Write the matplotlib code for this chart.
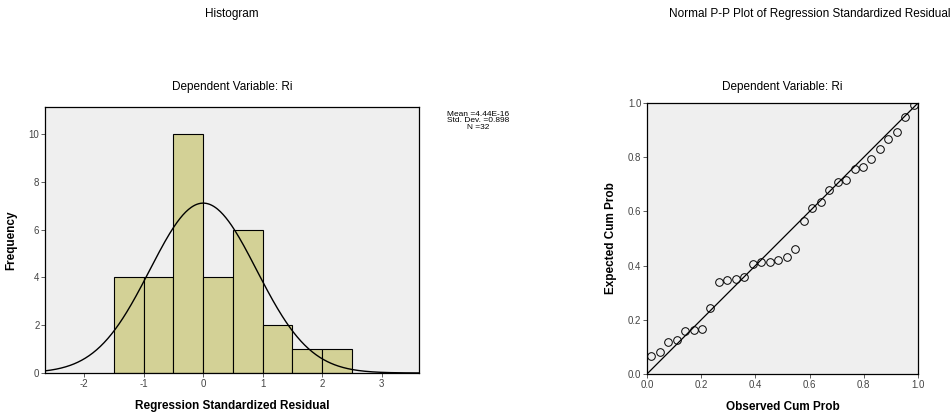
import numpy as np
import matplotlib
matplotlib.use('Agg')
import matplotlib.pyplot as plt

plt.rcParams['font.family'] = ['Liberation Sans', 'DejaVu Sans']
plt.rcParams['axes.unicode_minus'] = False

# ----- histogram data -----
bin_edges = [-1.5, -1.0, -0.5, 0.0, 0.5, 1.0, 1.5, 2.0, 2.5]
counts = [4, 4, 10, 4, 6, 2, 1, 1]
resid_mean = 4.44e-16
resid_std = 0.898
n_obs = 32

# ----- P-P plot data -----
observed_cum = [0.016, 0.047, 0.078, 0.109, 0.141, 0.172, 0.203, 0.234,
                0.266, 0.297, 0.328, 0.359, 0.391, 0.422, 0.453, 0.484,
                0.516, 0.547, 0.578, 0.609, 0.641, 0.672, 0.703, 0.734,
                0.766, 0.797, 0.828, 0.859, 0.891, 0.922, 0.953, 0.984]
expected_cum = [0.068, 0.081, 0.118, 0.126, 0.160, 0.163, 0.166, 0.244,
                0.340, 0.347, 0.351, 0.357, 0.405, 0.413, 0.413, 0.420,
                0.433, 0.463, 0.564, 0.611, 0.634, 0.680, 0.709, 0.717,
                0.756, 0.765, 0.793, 0.830, 0.868, 0.893, 0.948, 0.994]

bar_color = '#d3d196'
panel_bg = '#efefef'

fig = plt.figure(figsize=(9.52, 4.16), dpi=100)

# ----- histogram -----
ax1 = fig.add_axes([0.0473, 0.1034, 0.3929, 0.6394])
ax1.set_facecolor(panel_bg)
left = np.array(bin_edges[:-1])
widths = np.diff(bin_edges)
ax1.bar(left, counts, width=widths, align='edge', color=bar_color,
        edgecolor='black', linewidth=0.8)
bw = widths[0]
xs = np.linspace(-2.66, 3.63, 400)
curve = n_obs * bw * np.exp(-0.5 * ((xs - resid_mean) / resid_std) ** 2) / (resid_std * np.sqrt(2 * np.pi))
ax1.plot(xs, curve, color='black', linewidth=1.0)
ax1.set_xlim(-2.66, 3.63)
ax1.set_ylim(0, 11.13)
ax1.set_xticks([-2, -1, 0, 1, 2, 3])
ax1.set_yticks([0, 2, 4, 6, 8, 10])
ax1.tick_params(labelsize=7, length=3, width=0.6, pad=1, colors='#444444')
ax1.set_xlabel('Regression Standardized Residual', fontsize=8.5, fontweight='bold', labelpad=8)
ax1.set_ylabel('Frequency', fontsize=8.5, fontweight='bold', labelpad=8)
for s in ax1.spines.values():
    s.set_linewidth(0.9)

fig.text(232 / 952, 1 - 14 / 416, 'Histogram', ha='center', va='center', fontsize=8.5)
fig.text(232 / 952, 1 - 87 / 416, 'Dependent Variable: Ri', ha='center', va='center', fontsize=8.5)
fig.text(478 / 952, 1 - 121 / 416,
         'Mean =4.44E-16\nStd. Dev. =0.898\nN =32',
         ha='center', va='center', fontsize=6, linespacing=0.95)

# ----- P-P plot -----
ax2 = fig.add_axes([0.6796, 0.1010, 0.2847, 0.6514])
ax2.set_facecolor(panel_bg)
ax2.plot([0, 1], [0, 1], color='black', linewidth=0.9)
ax2.plot(observed_cum, expected_cum, 'o', markerfacecolor='none',
         markeredgecolor='black', markersize=5.5, markeredgewidth=0.7)
ax2.set_xlim(0, 1)
ax2.set_ylim(0, 1)
ticks = [0.0, 0.2, 0.4, 0.6, 0.8, 1.0]
ax2.set_xticks(ticks)
ax2.set_yticks(ticks)
ax2.set_xticklabels(['0.0', '0.2', '0.4', '0.6', '0.8', '1.0'])
ax2.set_yticklabels(['0.0', '0.2', '0.4', '0.6', '0.8', '1.0'])
ax2.tick_params(labelsize=7, length=3, width=0.6, pad=1, colors='#444444')
ax2.set_xlabel('Observed Cum Prob', fontsize=8.5, fontweight='bold', labelpad=8)
ax2.set_ylabel('Expected Cum Prob', fontsize=8.5, fontweight='bold', labelpad=8)
for s in ax2.spines.values():
    s.set_linewidth(0.9)

fig.text(810 / 952, 1 - 14 / 416, 'Normal P-P Plot of Regression Standardized Residual',
         ha='center', va='center', fontsize=8.5)
fig.text(782 / 952, 1 - 87 / 416, 'Dependent Variable: Ri', ha='center', va='center', fontsize=8.5)

fig.savefig('out.png', dpi=100, facecolor='white')
